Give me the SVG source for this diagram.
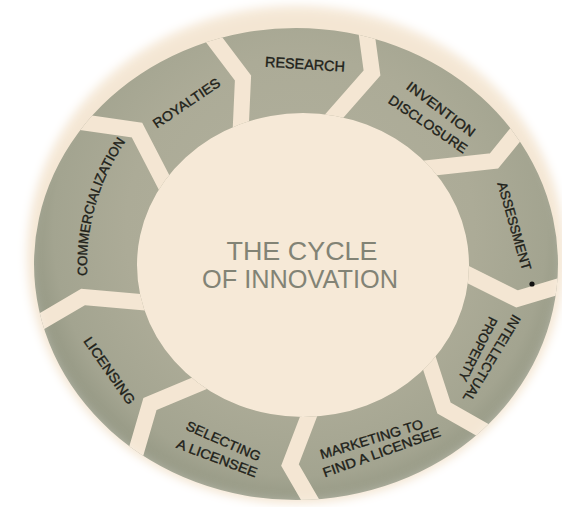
<svg xmlns="http://www.w3.org/2000/svg" width="562" height="507" viewBox="0 0 562 507">
<defs>
<style>
.seg{fill:url(#segGrad)}
.gap{fill:none;stroke:#f4e6d3;stroke-width:16;stroke-linejoin:miter;stroke-miterlimit:10}
.lbl{font-family:"Liberation Sans",Arial,sans-serif;font-size:13.5px;fill:#202119;stroke:#202119;stroke-width:0.35}
.ctr{font-family:"Liberation Sans",Arial,sans-serif;font-size:26px;fill:#828375;text-anchor:middle}
</style>
<radialGradient id="segGrad" gradientUnits="userSpaceOnUse" cx="300" cy="230" r="290">
<stop offset="0" stop-color="#b2b19e"/>
<stop offset="0.6" stop-color="#acab97"/>
<stop offset="0.85" stop-color="#a3a490"/>
<stop offset="1" stop-color="#8d917d"/>
</radialGradient>
<filter id="blur6" x="-20%" y="-20%" width="140%" height="140%"><feGaussianBlur stdDeviation="5"/></filter>
<filter id="blur9" x="-20%" y="-20%" width="140%" height="140%"><feGaussianBlur stdDeviation="8"/></filter>
<clipPath id="ring">
<path clip-rule="evenodd" d="M34,264 a262,236 0 1,0 524,0 a262,236 0 1,0 -524,0 Z M137,265 a166,152 0 1,0 332,0 a166,152 0 1,0 -332,0 Z"/>
</clipPath>
<path id="arcComm" d="M89.1,295 A216,216 0 0,1 137.5,126.1"/>
</defs>
<rect width="562" height="507" fill="#ffffff"/>
<ellipse cx="296" cy="254" rx="272" ry="252" fill="#f4e6d3" filter="url(#blur6)"/>
<ellipse cx="303" cy="265" rx="166" ry="152" fill="#f6e9d7"/>

<g clip-path="url(#ring)">
<g id="research"><path class="seg" d="M303,265 L239,166 L243,78 L119,-86 L348,-103 L372,73 L300,155 Z"/></g>
<g id="invention-disclosure"><path class="seg" d="M303,265 L300,155 L372,73 L348,-103 L598,33 L494,161 L366,175 Z"/></g>
<g id="assessment"><path class="seg" d="M303,265 L366,175 L494,161 L598,33 L677,251 L517,299 L421,251 Z"/></g>
<g id="intellectual-property"><path class="seg" d="M303,265 L421,251 L517,299 L677,251 L620,508 L444,408 L416,322 Z"/></g>
<g id="marketing"><path class="seg" d="M303,265 L416,322 L444,408 L620,508 L378,617 L290,465 L326,371 Z"/></g>
<g id="selecting"><path class="seg" d="M303,265 L326,371 L290,465 L378,617 L94,596 L150,404 L236,368 Z"/></g>
<g id="licensing"><path class="seg" d="M303,265 L236,368 L150,404 L94,596 L-81,393 L83,297 L197,307 Z"/></g>
<g id="commercialization"><path class="seg" d="M303,265 L197,307 L83,297 L-81,393 L-59,102 L137,130 L199,250 Z"/></g>
<g id="royalties"><path class="seg" d="M303,265 L199,250 L137,130 L-59,102 L119,-86 L243,78 L239,166 Z"/></g>
</g>

<g id="gaps" clip-path="url(#ring)">
<polyline class="gap" points="181,-4 243,78 239,166"/>
<polyline class="gap" points="360,-15 372,73 300,155"/>
<polyline class="gap" points="546,97 494,161 366,175"/>
<polyline class="gap" points="597,275 517,299 421,251"/>
<polyline class="gap" points="532,458 444,408 416,322"/>
<polyline class="gap" points="334,541 290,465 326,371"/>
<polyline class="gap" points="122,500 150,404 236,368"/>
<polyline class="gap" points="1,345 83,297 197,307"/>
<polyline class="gap" points="39,116 137,130 199,250"/>
</g>

<ellipse cx="296" cy="256" rx="294" ry="274" fill="none" stroke="#ffffff" stroke-width="44" filter="url(#blur9)"/>

<g id="labels">
<text class="lbl" transform="translate(186.5,103) rotate(-34)" y="4.8" text-anchor="middle" textLength="78" lengthAdjust="spacingAndGlyphs">ROYALTIES</text>
<text class="lbl" style="font-size:14.5px" transform="translate(305,64) rotate(3.6)" y="5.2" text-anchor="middle" textLength="80" lengthAdjust="spacingAndGlyphs">RESEARCH</text>
<text class="lbl" transform="translate(441,109) rotate(37)" y="4.8" text-anchor="middle" textLength="82" lengthAdjust="spacingAndGlyphs">INVENTION</text>
<text class="lbl" transform="translate(428,124) rotate(34)" y="4.8" text-anchor="middle" textLength="92" lengthAdjust="spacingAndGlyphs">DISCLOSURE</text>
<text class="lbl" transform="translate(514.5,226) rotate(74)" y="4.8" text-anchor="middle" textLength="91" lengthAdjust="spacingAndGlyphs">ASSESSMENT</text>
<circle cx="532" cy="284" r="2.6" fill="#111"/>
<text class="lbl" transform="translate(492,358.5) rotate(121)" y="4.8" text-anchor="middle" textLength="99" lengthAdjust="spacingAndGlyphs">INTELLECTUAL</text>
<text class="lbl" transform="translate(478,349) rotate(117)" y="4.8" text-anchor="middle" textLength="70" lengthAdjust="spacingAndGlyphs">PROPERTY</text>
<text class="lbl" transform="translate(371.5,439) rotate(-17)" y="4.8" text-anchor="middle" textLength="107" lengthAdjust="spacingAndGlyphs">MARKETING TO</text>
<text class="lbl" transform="translate(381.5,452) rotate(-19.7)" y="4.8" text-anchor="middle" textLength="124" lengthAdjust="spacingAndGlyphs">FIND A LICENSEE</text>
<text class="lbl" transform="translate(223.5,441) rotate(23.7)" y="4.8" text-anchor="middle" textLength="80" lengthAdjust="spacingAndGlyphs">SELECTING</text>
<text class="lbl" transform="translate(217,458) rotate(20.5)" y="4.8" text-anchor="middle" textLength="85" lengthAdjust="spacingAndGlyphs">A LICENSEE</text>
<text class="lbl" transform="translate(109.5,370.5) rotate(55)" y="4.8" text-anchor="middle" textLength="79" lengthAdjust="spacingAndGlyphs">LICENSING</text>
<text class="lbl"><textPath href="#arcComm" startOffset="50%" text-anchor="middle" textLength="142" lengthAdjust="spacingAndGlyphs">COMMERCIALIZATION</textPath></text>
</g>

<g id="center">
<text class="ctr" x="302" y="260" textLength="151" lengthAdjust="spacingAndGlyphs">THE CYCLE</text>
<text class="ctr" x="300" y="288" textLength="196" lengthAdjust="spacingAndGlyphs">OF INNOVATION</text>
</g>
</svg>
